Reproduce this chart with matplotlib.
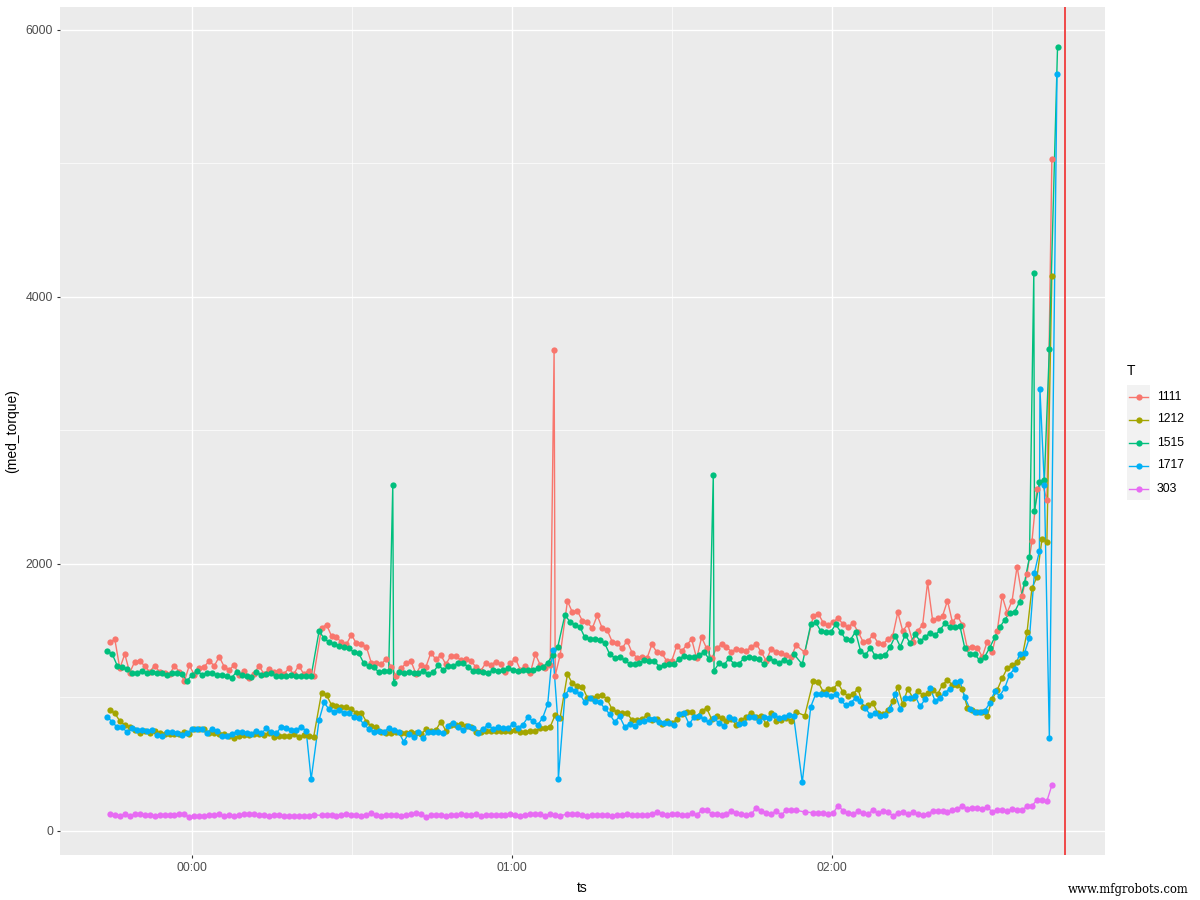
import matplotlib
matplotlib.use("Agg")
import matplotlib.pyplot as plt
import numpy as np

plt.rcParams["font.family"] = ["Liberation Sans", "DejaVu Sans"]

# sampling blocks of the log, minutes after 00:00
block_start = [-15.4, 24.3, 70.4, 114.9, 116.5]
block_count = [42, 49, 47, 1, 49]
sample_step = 0.932
late_shift = -0.47  # 1515 and 1717 are logged a bit earlier

labels = ["1111", "1212", "1515", "1717", "303"]
colors = ["#F8766D", "#A3A500", "#00BF7D", "#00B0F6", "#E76BF3"]

t1111 = [1413, 1435, 1218, 1325, 1186, 1268, 1275, 1236, 1193, 1238, 1193, 1186, 1176, 1236, 1193, 1123, 1241, 1168, 1218, 1231, 1275, 1236, 1305, 1231, 1206, 1243, 1168, 1201, 1148, 1176, 1238, 1176, 1211, 1193, 1201, 1176, 1218, 1176, 1238, 1176, 1201, 1161,
         1523, 1545, 1460, 1450, 1413, 1398, 1470, 1405, 1398, 1380, 1260, 1256, 1248, 1290, 1231,
         1161, 1218, 1256, 1270, 1176, 1243, 1231, 1335, 1285, 1318, 1248, 1313, 1308, 1280, 1288, 1275, 1231, 1198, 1256, 1243, 1266, 1248, 1188, 1256, 1290, 1206, 1236, 1186, 1325, 1243, 1218, 1243, 1163, 1318,
         1722, 1638, 1648, 1575, 1563, 1518, 1615, 1518, 1505, 1418, 1405, 1368, 1425, 1335, 1298, 1305, 1293, 1398, 1338, 1330, 1272, 1276,
         1388, 1348, 1393, 1436, 1293, 1451, 1368, 1293, 1368, 1398, 1376, 1343, 1363, 1356, 1348, 1381, 1401, 1338, 1276, 1366, 1343, 1331, 1318, 1301, 1391,
         1338,
         1610, 1628, 1560, 1540, 1568, 1593, 1548, 1530, 1555, 1493, 1418, 1423, 1468, 1411, 1398, 1438, 1463, 1638, 1498, 1548, 1418, 1500, 1543, 1863, 1580, 1593, 1610, 1725, 1563, 1613,
         1543, 1368, 1380, 1373, 1305, 1418, 1343, 1498, 1760, 1635, 1725, 1980, 1760, 1925, 2172, 2560, 2615, 2480, 5030]

t1212 = [906, 881, 824, 794, 776, 756, 736, 749, 736, 751, 731, 724, 724, 724, 726, 741, 726, 761, 761, 761, 736, 731, 726, 724, 711, 696, 711, 719, 719, 726, 726, 719, 731, 701, 711, 714, 711, 724, 701, 716, 714, 704,
         1036, 1018, 943, 936, 926, 926, 913, 886, 886, 819, 786, 781, 744, 731, 736,
         744, 731, 736, 744, 736, 726, 761, 751, 756, 819, 751, 794, 794, 801, 786, 781, 744, 744, 749, 749, 746, 749, 749, 751, 756, 741, 741, 751, 751, 769, 774, 781, 869, 849,
         1173, 1106, 1086, 1081, 998, 998, 1011, 1018, 986, 911, 894, 881, 881, 831, 831, 839, 869, 831, 836, 799, 826, 806,
         836, 876, 894, 889, 856, 901, 919, 839, 864, 844, 826, 839, 794, 831, 856, 886, 856, 864, 799, 881, 826, 831, 846, 826, 891,
         864,
         1123, 1113, 1044, 1061, 1066, 1106, 1039, 1011, 1026, 1066, 931, 944, 956, 881, 874, 906, 976, 1079, 949, 1066, 999, 1048, 1019, 1031, 1056, 1024, 1096, 1129, 1094, 1094,
         1061, 923, 906, 888, 888, 863, 986, 1056, 1143, 1218, 1243, 1263, 1300, 1488, 1822, 1900, 2184, 2167, 4160]

t1515 = [1348, 1323, 1238, 1226, 1213, 1186, 1186, 1196, 1186, 1191, 1186, 1186, 1171, 1181, 1181, 1176, 1123, 1168, 1201, 1171, 1186, 1183, 1168, 1171, 1161, 1148, 1191, 1166, 1161, 1156, 1193, 1168, 1176, 1181, 1161, 1161, 1161, 1168, 1161, 1161, 1161, 1161,
         1498, 1443, 1413, 1400, 1388, 1378, 1368, 1338, 1330, 1256, 1238, 1226, 1191, 1196, 1196,
         1111, 1188, 1186, 1188, 1181, 1186, 1196, 1178, 1191, 1243, 1206, 1236, 1236, 1261, 1256, 1231, 1201, 1198, 1193, 1186, 1203, 1201, 1203, 1218, 1208, 1201, 1206, 1208, 1206, 1218, 1228, 1261, 1318, 1375,
         1618, 1568, 1543, 1530, 1450, 1435, 1435, 1430, 1405, 1325, 1295, 1305, 1280, 1251, 1251, 1256, 1281, 1276, 1271, 1231, 1243, 1251,
         1253, 1291, 1311, 1303, 1303, 1316, 1343, 1286, 1201, 1256, 1243, 1293, 1253, 1253, 1293, 1303, 1293, 1286, 1251, 1296, 1276, 1256, 1281, 1266, 1328,
         1248,
         1548, 1563, 1498, 1493, 1488, 1548, 1493, 1436, 1433, 1493, 1351, 1318, 1373, 1308, 1311, 1318, 1381, 1461, 1381, 1468, 1406, 1473, 1423, 1451, 1486, 1466, 1506, 1555, 1531, 1526,
         1535, 1368, 1325, 1323, 1278, 1305, 1373, 1450, 1525, 1580, 1635, 1640, 1715, 1860, 2050, 2397, 2615, 2630, 3610]

t1717 = [854, 816, 776, 776, 739, 769, 756, 754, 749, 754, 716, 709, 741, 741, 731, 721, 731, 761, 764, 766, 736, 764, 751, 711, 711, 726, 744, 744, 736, 726, 749, 731, 769, 744, 731, 781, 774, 756, 756, 779, 751, 387,
         831, 963, 911, 894, 906, 886, 886, 851, 844, 801, 764, 744, 749, 744, 769,
         756, 744, 669, 726, 706, 744, 699, 739, 739, 739, 731, 786, 811, 779, 756, 789, 771, 736, 764, 796, 764, 781, 769, 769, 801, 774, 796, 851, 823, 794, 849, 951, 1356, 844,
         1018, 1066, 1051, 1026, 963, 998, 973, 966, 918, 876, 816, 859, 781, 801, 784, 814, 826, 836, 841, 814, 811, 806,
         794, 874, 881, 799, 856, 861, 836, 814, 849, 806, 789, 854, 836, 802, 811, 856, 856, 824, 856, 849, 869, 849, 856, 871, 864,
         364,
         931, 1026, 1029, 1024, 1011, 1024, 979, 944, 959, 996, 976, 919, 869, 881, 861, 866, 911, 1024, 914, 999, 999, 1011, 934, 986, 1074, 974, 999, 1036, 1066, 1113,
         1123, 1001, 916, 888, 893, 901, 956, 1046, 1013, 1068, 1171, 1216, 1325, 1333, 1448, 1935, 2097, 2590, 697]

t303 = [127, 120, 114, 124, 112, 124, 127, 120, 117, 112, 122, 122, 120, 122, 124, 124, 104, 112, 114, 114, 117, 120, 124, 112, 117, 112, 117, 124, 127, 124, 117, 117, 112, 120, 117, 114, 114, 112, 112, 114, 114, 120,
        117, 117, 122, 114, 122, 127, 122, 117, 114, 120, 132, 122, 114, 122, 120,
        122, 114, 120, 127, 132, 124, 107, 120, 122, 122, 112, 120, 122, 124, 122, 120, 124, 114, 117, 120, 120, 117, 120, 124, 120, 114, 120, 124, 129, 124, 114, 127, 117, 112,
        129, 129, 127, 120, 114, 117, 120, 122, 117, 114, 120, 122, 129, 117, 120, 120, 122, 127, 142, 129, 120, 124,
        125, 122, 117, 132, 117, 157, 160, 127, 125, 122, 125, 152, 135, 125, 122, 125, 175, 152, 137, 125, 152, 117, 157, 157, 155,
        142,
        137, 137, 132, 125, 135, 190, 150, 132, 125, 147, 132, 125, 157, 132, 147, 142, 115, 132, 140, 125, 142, 125, 120, 130, 147, 147, 150, 140, 155, 162,
        189, 167, 172, 169, 167, 179, 142, 159, 159, 147, 167, 159, 157, 184, 189, 232, 232, 224, 342]

# samples that fall between the regular ones: (minutes, torque)
extra_1111 = [(67.9, 3600)]
extra_1212 = []
extra_1515 = [(37.65, 2590), (97.75, 2670), (157.85, 4180), (162.3, 5870)]
extra_1717 = [(68.7, 389), (159.0, 3310), (162.2, 5670)]
extra_303 = []

vline_ts = 163.7


def sample_times(shift=0.0):
    parts = [s + shift + sample_step * np.arange(n) for s, n in zip(block_start, block_count)]
    return np.concatenate(parts)


def build_series(values, extra, shift=0.0):
    x = sample_times(shift)
    x = x[:len(values)]
    y = np.array(values[:len(x)], dtype=float)
    if extra:
        x = np.concatenate([x, [e[0] for e in extra]])
        y = np.concatenate([y, [e[1] for e in extra]])
    order = np.argsort(x)
    return x[order], y[order]


series = [
    build_series(t1111, extra_1111),
    build_series(t1212, extra_1212),
    build_series(t1515, extra_1515, late_shift),
    build_series(t1717, extra_1717, late_shift),
    build_series(t303, extra_303),
]

fig = plt.figure(figsize=(12, 9), dpi=100)
ax = fig.add_axes([60 / 1200, 45 / 900, 1045 / 1200, 848 / 900])
ax.set_facecolor("#EBEBEB")
for s in ax.spines.values():
    s.set_visible(False)

# lines first, points on top, same as a line + point layer plot
for (x, y), c in zip(series, colors):
    ax.plot(x, y, color=c, lw=1.0, zorder=2, solid_joinstyle="round")
for (x, y), c in zip(series, colors):
    ax.plot(x, y, ls="none", marker="o", ms=4.5, mfc=c, mec=c, mew=0, zorder=3)

ax.axvline(vline_ts, color="#F03B3B", lw=1.3, zorder=4)

ax.set_xlim(-24.75, 171.2)
ax.set_ylim(-180, 6172)
ax.set_xticks([0, 60, 120])
ax.set_xticklabels(["00:00", "01:00", "02:00"])
ax.set_yticks([0, 2000, 4000, 6000])
ax.set_xticks([30, 90, 150], minor=True)
ax.set_yticks([1000, 3000, 5000], minor=True)
ax.grid(which="major", color="white", lw=1.0, zorder=1)
ax.grid(which="minor", color="white", lw=0.5, zorder=1)
ax.set_axisbelow(True)
ax.tick_params(which="major", length=2.5, width=0.8, color="#333333", labelcolor="#4D4D4D", labelsize=8.8, pad=2.5)
ax.tick_params(which="minor", length=0)
ax.set_xlabel("ts", fontsize=10, labelpad=5)
ax.set_ylabel("(med_torque)", fontsize=10, labelpad=5)
ax.xaxis.label.set_position((522 / 1045, 0))

# legend by hand so the key boxes keep their grey background
key_ax = fig.add_axes([1127 / 1200, (900 - 500) / 900, 23 / 1200, 115 / 900])
key_ax.set_xlim(0, 1)
key_ax.set_ylim(len(labels), 0)
key_ax.set_facecolor("#F2F2F2")
key_ax.set_xticks([])
key_ax.set_yticks([])
for s in key_ax.spines.values():
    s.set_visible(False)
for i, (lab, c) in enumerate(zip(labels, colors)):
    key_ax.plot([0.08, 0.92], [i + 0.5, i + 0.5], color=c, lw=1.0)
    key_ax.plot([0.5], [i + 0.5], ls="none", marker="o", ms=4.5, mfc=c, mec=c, mew=0)
    key_ax.text(1.3, i + 0.5, lab, va="center", ha="left", fontsize=8.8, color="black")
fig.text(1127 / 1200, 1 - 371 / 900, "T", fontsize=10, va="center", ha="left")

fig.text(1189 / 1200, 1 - 889 / 900, "www.mfgrobots.com", fontsize=8.4, family="DejaVu Serif", ha="right", va="center")

fig.savefig("out.png", dpi=100)
